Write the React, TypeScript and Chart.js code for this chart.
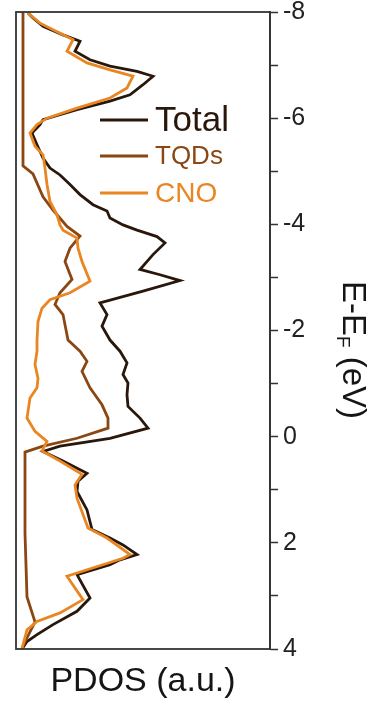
import React, { useEffect, useRef } from "react";
import { Chart, registerables } from "chart.js";

Chart.register(...registerables);

// ---- data (PDOS in a.u., energy E - E_F in eV) ----
const seriesLabels = ["Total", "TQDs", "CNO"];
const seriesColors = ["#2a170b", "#8a4714", "#ea8622"];
const energyTickLabels = [-8, -6, -4, -2, 0, 2, 4];
const xTitle = "PDOS (a.u.)";

const totalE = [-7.98, -7.89, -7.73, -7.57, -7.45, -7.26, -7.1, -6.98, -6.88, -6.79, -6.63, -6.44, -6.32, -6.16, -5.97, -5.88, -5.72, -5.5, -5.25, -5.06, -4.93, -4.75, -4.56, -4.37, -4.25, -4.12, -3.99, -3.89, -3.77, -3.65, -3.43, -3.15, -3.05, -2.94, -2.74, -2.52, -2.3, -2.08, -1.82, -1.61, -1.39, -1.17, -1.01, -0.79, -0.57, -0.35, -0.16, 0.03, 0.18, 0.28, 0.46, 0.69, 0.84, 1.03, 1.38, 1.75, 1.91, 2.04, 2.22, 2.32, 2.41, 2.6, 3.04, 3.29, 3.54, 3.73, 3.86, 4.0];
const totalPDOS = [12, 17, 27, 47, 64, 59, 74, 94, 121, 137, 127, 114, 94, 61, 27, 24, 16, 21, 27, 34, 44, 54, 64, 77, 91, 94, 107, 121, 141, 149, 137, 124, 144, 164, 127, 84, 91, 86, 94, 104, 111, 107, 112, 111, 112, 124, 132, 94, 44, 27, 47, 71, 62, 61, 71, 76, 94, 107, 121, 104, 94, 61, 74, 61, 37, 21, 11, 6];

const tqdsE = [-8.0, -5.1, -4.95, -4.52, -4.27, -3.96, -3.78, -3.55, -3.3, -2.96, -2.71, -2.49, -2.3, -2.11, -1.82, -1.61, -1.42, -1.23, -0.92, -0.6, -0.35, -0.16, 0.03, 0.18, 0.29, 1.19, 1.82, 3.02, 3.49, 3.98];
const tqdsPDOS = [7, 7, 17, 27, 37, 51, 64, 54, 49, 56, 44, 39, 47, 49, 52, 64, 71, 66, 74, 86, 92, 92, 61, 27, 9, 9, 9, 11, 19, 6];

const cnoE = [-7.98, -7.79, -7.6, -7.48, -7.26, -7.04, -6.91, -6.79, -6.57, -6.38, -6.19, -6.0, -5.88, -5.72, -5.47, -5.31, -5.06, -4.75, -4.43, -4.18, -3.99, -3.89, -3.74, -3.55, -3.3, -2.93, -2.71, -2.58, -2.42, -2.17, -1.82, -1.61, -1.36, -1.1, -0.92, -0.73, -0.35, -0.1, 0.09, 0.27, 0.46, 0.71, 0.91, 1.16, 1.72, 1.91, 2.22, 2.29, 2.63, 3.07, 3.32, 3.48, 3.64, 3.92, 4.0];
const cnoPDOS = [12, 24, 44, 57, 51, 71, 94, 117, 111, 94, 61, 31, 21, 14, 19, 27, 29, 31, 34, 41, 44, 47, 61, 62, 66, 74, 54, 34, 26, 22, 21, 21, 19, 22, 21, 14, 11, 19, 31, 26, 44, 66, 59, 61, 72, 91, 114, 107, 51, 67, 44, 21, 11, 7, 6];

const FONT = "'Liberation Sans', Arial, Helvetica, sans-serif";
const AXIS_COLOR = "#333333";

const toPoints = (es: number[], vs: number[]) => es.map((e, i) => ({ x: vs[i], y: e }));

const framePlugin = {
  id: "frame",
  afterDraw(chart: any) {
    const { ctx, chartArea: a } = chart;
    ctx.save();
    ctx.strokeStyle = AXIS_COLOR;
    ctx.lineWidth = 1.8;
    ctx.strokeRect(a.left, a.top, a.right - a.left, a.bottom - a.top);

    // legend
    const sizes = [35, 26, 28];
    const rows = [108, 144, 181];
    chart.data.datasets.forEach((ds: any, i: number) => {
      const y = a.top + rows[i];
      ctx.strokeStyle = ds.borderColor;
      ctx.lineWidth = 3;
      ctx.beginPath();
      ctx.moveTo(a.left + 84, y);
      ctx.lineTo(a.left + 132, y);
      ctx.stroke();
      ctx.fillStyle = ds.borderColor;
      ctx.font = `${sizes[i]}px ${FONT}`;
      ctx.textBaseline = "middle";
      ctx.textAlign = "left";
      ctx.fillText(ds.label, a.left + 139, y + 1);
    });

    // x title
    ctx.fillStyle = "#151515";
    ctx.font = `34px ${FONT}`;
    ctx.textAlign = "center";
    ctx.textBaseline = "middle";
    ctx.fillText(xTitle, (a.left + a.right) / 2, 682);

    // y title with subscript
    const big = `33px ${FONT}`;
    const small = `19px ${FONT}`;
    const parts = [
      { t: "E-E", f: big, dy: 0 },
      { t: "F", f: small, dy: 10 },
      { t: " (eV)", f: big, dy: 0 },
    ];
    let total = 0;
    parts.forEach((p) => {
      ctx.font = p.f;
      total += ctx.measureText(p.t).width;
    });
    ctx.translate(352, 350);
    ctx.rotate(Math.PI / 2);
    ctx.textAlign = "left";
    let x = -total / 2;
    parts.forEach((p) => {
      ctx.font = p.f;
      ctx.fillText(p.t, x, p.dy);
      x += ctx.measureText(p.t).width;
    });
    ctx.restore();
  },
};

export default function App() {
  const canvasRef = useRef<HTMLCanvasElement | null>(null);

  useEffect(() => {
    document.body.style.margin = "0";
    const canvas = canvasRef.current;
    if (!canvas) return;
    const series = [
      toPoints(totalE, totalPDOS),
      toPoints(tqdsE, tqdsPDOS),
      toPoints(cnoE, cnoPDOS),
    ];
    const orders = [3, 2, 1];
    const chart = new Chart(canvas, {
      type: "scatter",
      data: {
        datasets: series.map((d, i) => ({
          label: seriesLabels[i],
          data: d,
          showLine: true,
          borderColor: seriesColors[i],
          backgroundColor: seriesColors[i],
          borderWidth: 2.8,
          pointRadius: 0,
          tension: 0,
          order: orders[i],
        })),
      },
      options: {
        animation: false,
        responsive: false,
        devicePixelRatio: 1,
        layout: { padding: { left: 16, top: 12, right: 0, bottom: 0 } },
        plugins: { legend: { display: false }, tooltip: { enabled: false } },
        scales: {
          x: {
            type: "linear",
            min: 0,
            max: 254,
            ticks: { display: false },
            grid: { display: false },
            border: { display: false },
            afterFit(scale: any) {
              scale.height = 55;
              scale.paddingLeft = 0;
              scale.paddingRight = 0;
            },
          },
          y: {
            type: "linear",
            position: "right",
            min: -8,
            max: 4,
            reverse: true,
            ticks: {
              stepSize: 1,
              color: "#222222",
              padding: 5,
              font: { family: FONT, size: 25, lineHeight: 1 },
              callback: (v: any) => (energyTickLabels.includes(Number(v)) ? String(v) : ""),
            },
            grid: {
              drawOnChartArea: false,
              drawTicks: true,
              tickLength: 8,
              tickWidth: 1.5,
              color: AXIS_COLOR,
            },
            border: { display: true, color: AXIS_COLOR, width: 1.8 },
            afterFit(scale: any) {
              scale.width = 121;
              scale.paddingTop = 0;
              scale.paddingBottom = 0;
            },
          },
        },
      },
      plugins: [framePlugin],
    });
    return () => chart.destroy();
  }, []);

  return (
    <div style={{ width: 391, height: 704, background: "#ffffff" }}>
      <canvas ref={canvasRef} width={391} height={704} style={{ display: "block" }} />
    </div>
  );
}
